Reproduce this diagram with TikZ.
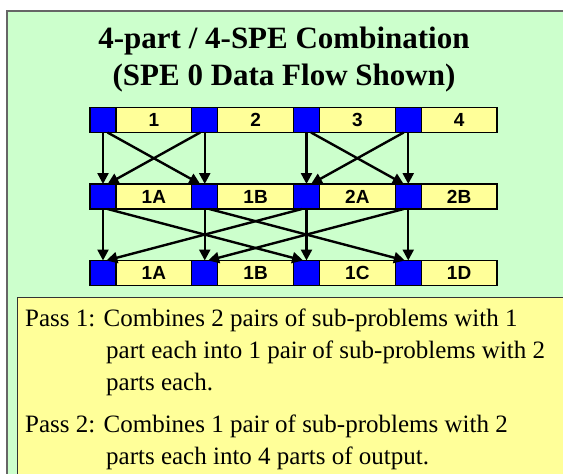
\documentclass[tikz,border=0pt]{standalone}
\usepackage{fontspec}
\setmainfont{Liberation Serif}
\setsansfont{Liberation Sans}
\usetikzlibrary{arrows.meta,positioning}
\definecolor{panelgreen}{HTML}{CCFFCC}
\definecolor{noteyellow}{HTML}{FFFF99}
\definecolor{framegray}{HTML}{666666}
\tikzset{
  spe/.style={draw, line width=1.2pt, fill=blue, minimum width=26pt, minimum height=25pt, inner sep=0pt, outer sep=0pt},
  part/.style={draw, line width=1.2pt, fill=noteyellow, minimum width=75.75pt, minimum height=25pt, inner sep=0pt, outer sep=0pt, font=\sffamily\bfseries\fontsize{19}{19}\selectfont},
  flow/.style={line width=2.4pt, -{Triangle[length=11pt,width=11pt]}},
  passtext/.style={anchor=base west, align=left, inner sep=0pt, font=\fontsize{25}{32}\selectfont}
}
\begin{document}
\begin{tikzpicture}[x=1pt,y=-1pt]
	\useasboundingbox (0,0) rectangle (563,474);
	\clip (0,0) rectangle (563,474);
	\draw[framegray, line width=1.6pt, fill=panelgreen] (7,11) rectangle (580,490);
	\draw[black!80, line width=1pt, fill=noteyellow] (17,297) rectangle (580,490);
	\node[font=\bfseries\fontsize{31}{37}\selectfont, align=center, anchor=base, inner sep=0pt] (title) at (284,85) {4-part / 4-SPE Combination\\(SPE 0 Data Flow Shown)};
	\foreach \row/\ypos/\lbls in {t/120/{1,2,3,4}, m/196.5/{1A,1B,2A,2B}, b/273/{1A,1B,1C,1D}}
		\foreach \lbl [count=\i] in \lbls {
			\node[spe] (\row\i) at ({103+101.75*(\i-1)},\ypos) {};
			\node[part, right=0pt of \row\i] (\row\i txt) {\lbl};
		}
	\foreach \i in {1,...,4} {
		\draw[flow] (t\i.south) -- (m\i.north);
		\draw[flow] (m\i.south) -- (b\i.north);
	}
	\foreach \p/\q in {1/2,3/4} {
		\draw[flow] (t\p.-70) -- (m\q.110);
		\draw[flow] (t\q.-110) -- (m\p.70);
	}
	\draw[flow] (m1.-70) -- (b3.105);
	\draw[flow] (m2.-70) -- (b4.105);
	\draw[flow] (m3.-110) -- (b1.75);
	\draw[flow] (m4.-110) -- (b2.75);
	\node[passtext] (pass1) at (25,390) {Pass 1: Combines 2 pairs of sub-problems with 1\\\hspace*{81pt}part each into 1 pair of sub-problems with 2\\\hspace*{81pt}parts each.};
	\node[passtext] (pass2) at (25,464) {Pass 2: Combines 1 pair of sub-problems with 2\\\hspace*{81pt}parts each into 4 parts of output.};
\end{tikzpicture}
\end{document}
